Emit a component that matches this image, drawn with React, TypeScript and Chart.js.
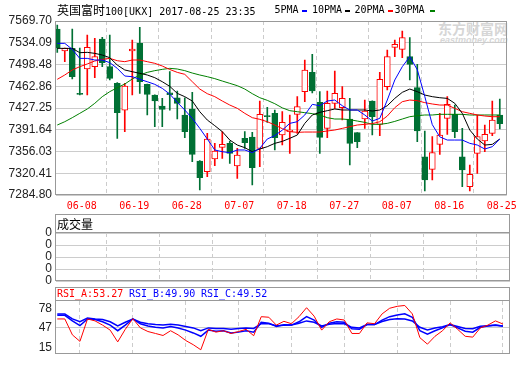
import React, { useEffect, useRef } from "react";
import { Chart, registerables } from "chart.js";

Chart.register(...registerables);

// ---------------- data ----------------
const dates = [
  "06-05", "06-06", "06-07", "06-08", "06-09", "06-12", "06-13", "06-14", "06-15", "06-16",
  "06-19", "06-20", "06-21", "06-22", "06-23", "06-26", "06-27", "06-28", "06-29", "06-30",
  "07-03", "07-04", "07-05", "07-06", "07-07", "07-10", "07-11", "07-12", "07-13", "07-14",
  "07-17", "07-18", "07-19", "07-20", "07-21", "07-24", "07-25", "07-26", "07-27", "07-28",
  "07-31", "08-01", "08-02", "08-03", "08-04", "08-07", "08-08", "08-09", "08-10", "08-11",
  "08-14", "08-15", "08-16", "08-17", "08-18", "08-21", "08-22", "08-23", "08-24", "08-25",
];
const xTickLabels = ["06-08", "06-19", "06-28", "07-07", "07-18", "07-27", "08-07", "08-16", "08-25"];

const opens = [
  7556.6, 7520.6, 7524.9, 7450.5, 7491.1, 7494.9, 7540.2, 7494.9, 7467.6, 7423.9,
  7520.6, 7533.1, 7466.0, 7448.5, 7430.5, 7452.0, 7444.1, 7415.8, 7425.6, 7340.4,
  7323.0, 7343.7, 7362.8, 7369.4, 7332.3, 7377.6, 7379.7, 7361.2, 7414.1, 7418.5,
  7383.0, 7388.5, 7416.9, 7454.0, 7485.6, 7436.5, 7393.9, 7434.9, 7427.8, 7409.2,
  7386.8, 7409.2, 7438.7, 7400.5, 7462.2, 7526.6, 7523.3, 7511.3, 7460.5, 7347.5,
  7326.8, 7367.7, 7410.3, 7416.9, 7347.5, 7298.4, 7353.0, 7373.2, 7385.7, 7415.8,
];
const highs = [
  7563.1, 7525.5, 7556.6, 7525.5, 7546.8, 7541.3, 7542.9, 7546.8, 7469.0, 7467.6,
  7538.6, 7559.3, 7466.5, 7449.0, 7443.0, 7486.7, 7455.1, 7444.1, 7452.9, 7341.0,
  7385.7, 7369.4, 7388.5, 7373.2, 7361.2, 7388.5, 7387.4, 7438.7, 7428.3, 7423.9,
  7421.2, 7415.8, 7445.8, 7505.8, 7515.1, 7454.0, 7455.1, 7487.8, 7462.2, 7443.0,
  7387.0, 7440.3, 7439.0, 7485.6, 7522.2, 7538.6, 7553.3, 7542.4, 7498.7, 7389.6,
  7380.3, 7418.5, 7445.8, 7432.1, 7393.9, 7333.9, 7415.8, 7399.4, 7438.7, 7442.0,
];
const lows = [
  7518.4, 7503.1, 7474.7, 7448.5, 7448.5, 7476.9, 7494.9, 7473.1, 7377.6, 7388.5,
  7448.5, 7451.2, 7415.8, 7396.7, 7396.7, 7423.9, 7409.2, 7378.6, 7339.3, 7293.0,
  7314.8, 7332.8, 7344.8, 7336.6, 7312.1, 7361.2, 7301.1, 7331.2, 7403.8, 7358.5,
  7366.6, 7353.0, 7385.7, 7437.6, 7452.0, 7353.0, 7378.6, 7426.5, 7407.6, 7333.9,
  7362.3, 7393.9, 7383.0, 7381.9, 7456.7, 7511.3, 7509.6, 7473.1, 7372.1, 7291.3,
  7309.3, 7351.4, 7384.1, 7378.6, 7298.4, 7291.3, 7320.2, 7355.7, 7381.9, 7392.8,
];
const closes = [
  7526.0, 7524.9, 7478.5, 7449.5, 7526.6, 7511.3, 7501.5, 7475.8, 7419.6, 7463.2,
  7523.8, 7470.3, 7449.6, 7438.7, 7425.0, 7449.0, 7434.9, 7388.5, 7351.4, 7313.1,
  7376.5, 7356.8, 7367.7, 7353.0, 7350.3, 7370.5, 7329.5, 7416.9, 7413.0, 7378.6,
  7403.8, 7391.2, 7429.4, 7489.5, 7455.1, 7379.2, 7434.9, 7451.2, 7443.0, 7369.4,
  7372.1, 7422.3, 7413.0, 7474.2, 7511.3, 7531.5, 7542.4, 7498.7, 7389.6, 7309.3,
  7354.1, 7383.0, 7433.2, 7388.5, 7325.7, 7318.6, 7380.3, 7384.1, 7407.6, 7401.5,
];

const ma5 = [
  7533.1, 7533.1, 7523.3, 7508.5, 7508.5, 7505.8, 7505.8, 7501.5, 7492.2, 7479.6,
  7478.5, 7474.2, 7470.3, 7466.0, 7459.4, 7450.0, 7436.5, 7424.0, 7410.3, 7393.9,
  7376.5, 7358.5, 7355.7, 7354.1, 7358.5, 7358.5, 7354.1, 7361.2, 7376.5, 7382.0,
  7391.0, 7402.1, 7404.8, 7415.8, 7433.2, 7431.0, 7438.7, 7440.3, 7431.0, 7424.0,
  7424.0, 7415.8, 7405.9, 7410.3, 7440.3, 7473.1, 7494.9, 7511.3, 7490.0, 7446.0,
  7400.0, 7380.0, 7374.8, 7374.8, 7374.8, 7369.4, 7366.6, 7360.1, 7363.9, 7376.5,
];
const ma10 = [
  7524.9, 7524.9, 7524.9, 7517.8, 7518.4, 7516.7, 7514.0, 7509.6, 7497.6, 7489.5,
  7486.7, 7484.0, 7481.3, 7476.9, 7470.3, 7462.7, 7451.2, 7445.8, 7438.7, 7421.2,
  7407.6, 7398.3, 7388.5, 7374.8, 7366.6, 7362.3, 7355.7, 7360.1, 7363.9, 7369.4,
  7372.6, 7377.6, 7383.0, 7402.1, 7415.8, 7420.1, 7422.9, 7425.6, 7424.0, 7424.0,
  7424.0, 7424.0, 7422.3, 7424.0, 7431.0, 7443.0, 7452.9, 7458.3, 7454.0, 7448.5,
  7445.8, 7444.1, 7443.0, 7434.9, 7418.5, 7391.2, 7376.5, 7366.6, 7367.7, 7376.5,
];
const ma20 = [
  7474.2, 7481.3, 7489.5, 7494.9, 7499.3, 7504.2, 7506.9, 7508.5, 7504.7, 7503.1,
  7505.8, 7505.8, 7503.1, 7500.4, 7496.0, 7490.3, 7485.6, 7482.4, 7470.3, 7458.3,
  7450.7, 7445.8, 7438.7, 7432.1, 7426.7, 7418.5, 7411.4, 7408.7, 7404.8, 7399.4,
  7393.4, 7388.5, 7387.4, 7387.9, 7387.9, 7387.9, 7389.6, 7391.2, 7393.9, 7396.7,
  7399.4, 7400.5, 7401.6, 7404.8, 7414.1, 7427.8, 7437.6, 7440.3, 7439.2, 7436.0,
  7433.8, 7432.1, 7432.1, 7426.7, 7421.2, 7418.5, 7415.8, 7414.1, 7413.0, 7413.0,
];
const ma30 = [
  7399.4, 7404.8, 7411.4, 7418.5, 7425.6, 7434.9, 7445.8, 7454.0, 7460.5, 7466.5,
  7474.7, 7481.3, 7485.6, 7488.4, 7490.5, 7492.2, 7491.1, 7488.4, 7484.5, 7481.3,
  7478.5, 7475.3, 7471.4, 7467.6, 7463.8, 7458.3, 7450.7, 7444.1, 7439.8, 7434.3,
  7427.5, 7422.9, 7421.2, 7419.6, 7418.0, 7415.8, 7411.4, 7409.2, 7409.2, 7408.1,
  7405.9, 7403.7, 7400.5, 7400.5, 7402.1, 7405.3, 7409.2, 7413.0, 7414.7, 7415.8,
  7415.8, 7416.9, 7416.9, 7416.9, 7416.9, 7415.8, 7415.8, 7415.8, 7415.8, 7415.8,
];
const maLabels = ["5PMA", "10PMA", "20PMA", "30PMA"];
const priceTicks = [7284.80, 7320.41, 7356.03, 7391.64, 7427.25, 7462.86, 7498.48, 7534.09, 7569.70];

const volTickLabels = ["0", "0", "0", "0", "0"];

const rsiA = [
  61.6, 61.6, 35.5, 24.9, 61.6, 58.4, 51.5, 43.3, 24.0, 44.6,
  62.1, 47.0, 41.0, 37.8, 34.5, 42.3, 35.5, 26.3, 19.4, 11.1,
  44.6, 40.0, 42.3, 37.8, 41.0, 44.6, 34.1, 65.3, 64.4, 51.5,
  57.7, 53.8, 65.3, 80.0, 66.2, 43.3, 57.0, 61.6, 59.8, 37.8,
  37.8, 55.2, 53.8, 69.9, 79.1, 82.3, 83.7, 69.9, 30.9, 20.3,
  33.2, 42.3, 55.2, 44.6, 33.2, 31.8, 46.9, 51.5, 58.4, 53.27,
];
const rsiB = [
  67.6, 67.6, 58.4, 50.6, 61.6, 60.7, 57.0, 51.5, 42.3, 51.5,
  61.6, 53.8, 50.1, 47.9, 46.9, 49.2, 46.9, 43.3, 38.7, 33.2,
  43.3, 41.4, 42.3, 38.7, 40.0, 42.3, 40.0, 56.1, 54.7, 49.2,
  51.9, 51.5, 57.0, 65.3, 59.8, 47.9, 54.7, 57.0, 56.1, 45.6,
  44.6, 52.4, 52.4, 59.8, 65.3, 68.1, 69.9, 64.4, 42.3, 36.8,
  42.3, 46.9, 52.4, 46.9, 41.4, 40.0, 47.9, 50.1, 51.1, 49.90,
];
const rsiC = [
  69.9, 69.9, 61.6, 57.0, 63.0, 61.6, 60.7, 57.0, 50.1, 56.1,
  61.6, 56.1, 53.8, 52.4, 51.5, 52.9, 51.5, 49.2, 46.9, 42.3,
  46.9, 46.0, 46.0, 44.6, 46.0, 46.9, 46.0, 53.8, 53.8, 50.6,
  51.3, 51.5, 54.7, 58.4, 56.1, 50.1, 52.9, 54.3, 53.8, 47.9,
  46.9, 52.4, 52.4, 57.5, 60.7, 62.1, 61.6, 58.4, 47.9, 43.7,
  46.9, 48.8, 52.4, 49.2, 46.0, 45.6, 49.7, 50.6, 51.5, 49.52,
];
const rsiTicks = [15, 47, 78];
const rsiLabels = ["RSI_A", "RSI_B", "RSI_C"];

const titleName = "英国富时";
const titleCode = "100[UKX]";
const titleTime = "2017-08-25 23:35";
const volTitle = "成交量";

// ---------------- styles ----------------
const RED = "#ff0000";
const BLUE = "#0000ff";
const BLACK = "#000000";
const GREEN_CANDLE = "#007034";
const GREEN_LINE = "#008000";
const GRID = "#cccccc";
const FRAME = "#999999";
const AXIS_TXT = "#222222";
const MONO = "'DejaVu Sans Mono', 'Liberation Mono', monospace";
const CJK = "'Noto Sans CJK SC', sans-serif";
const SANS = "'Liberation Sans', Arial, sans-serif";
const W = 520;
const H = 365;
const X_MIN = -0.17;
const X_MAX = 59.93;

const framePlugin = {
  id: "panelFrame",
  afterDraw(chart: any, _args: any, opts: any) {
    const { ctx, chartArea: a } = chart;
    const top = opts && opts.headerTop != null ? opts.headerTop : a.top;
    ctx.save();
    ctx.strokeStyle = FRAME;
    ctx.lineWidth = 1;
    const l = Math.round(a.left) - 0.5;
    const r = Math.round(a.right) - 0.5;
    const t = Math.round(top) + 0.5;
    const b = Math.round(a.bottom) - 0.5;
    ctx.strokeRect(l, t, r - l, b - t);
    if (opts && opts.headerTop != null) {
      const y = Math.round(a.top) - 0.5;
      ctx.beginPath();
      ctx.moveTo(l, y);
      ctx.lineTo(r, y);
      ctx.stroke();
    }
    ctx.restore();
  },
};

const pts = (arr: number[]) => arr.map((y, x) => ({ x, y }));

function xScale(showLabels: boolean) {
  const idx = xTickLabels.map((l) => dates.indexOf(l));
  return {
    type: "linear",
    min: X_MIN,
    max: X_MAX,
    offset: false,
    afterBuildTicks: (s: any) => {
      s.ticks = idx.map((v) => ({ value: v }));
    },
    afterFit: (s: any) => {
      s.height = showLabels ? 19 : 0;
    },
    ticks: {
      display: showLabels,
      autoSkip: false,
      maxRotation: 0,
      minRotation: 0,
      padding: 5,
      labelOffset: 2,
      color: RED,
      font: { family: MONO, size: 10 },
      callback: (v: any) => dates[Math.round(Number(v))] ?? "",
    },
    grid: { color: GRID, drawTicks: false, lineWidth: 1 },
    border: { display: false, dash: [4, 3] },
  };
}

function yScale(min: number, max: number, tickVals: number[], label: (v: number, i: number) => string, gridColor: any) {
  return {
    type: "linear",
    min,
    max,
    afterBuildTicks: (s: any) => {
      s.ticks = tickVals.map((v) => ({ value: v }));
    },
    afterFit: (s: any) => {
      s.width = 56;
    },
    ticks: {
      autoSkip: false,
      padding: 4,
      color: AXIS_TXT,
      font: { family: SANS, size: 12 },
      callback: (v: any, i: number) => label(Number(v), i),
    },
    grid: { color: gridColor, drawTicks: false, lineWidth: 1 },
    border: { display: false },
  };
}

const baseOptions = (padding: any, frame: any) => ({
  responsive: false,
  animation: false,
  events: [],
  layout: { padding, autoPadding: false },
  plugins: { legend: { display: false }, tooltip: { enabled: false }, panelFrame: frame },
});

function mainConfig(): any {
  const up = closes.map((c, i) => c >= opens[i]);
  const line = (label: string, data: number[], color: string, order: number) => ({
    type: "line",
    label,
    data: pts(data),
    borderColor: color,
    borderWidth: 1,
    pointRadius: 0,
    tension: 0,
    order,
  });
  return {
    type: "bar",
    data: {
      datasets: [
        line(maLabels[0], ma5, BLUE, 1),
        line(maLabels[1], ma10, BLACK, 2),
        line(maLabels[2], ma20, RED, 3),
        line(maLabels[3], ma30, GREEN_LINE, 4),
        {
          type: "bar",
          label: "body",
          data: opens.map((o, i) => ({ x: i, y: [o, closes[i]] })),
          backgroundColor: up.map((u) => (u ? "#ffffff" : GREEN_CANDLE)),
          borderColor: up.map((u) => (u ? RED : GREEN_CANDLE)),
          borderWidth: 1,
          borderSkipped: false,
          barThickness: 6,
          grouped: false,
          minBarLength: 1,
          order: 5,
        },
        {
          type: "bar",
          label: "wick",
          data: lows.map((l, i) => ({ x: i, y: [l, highs[i]] })),
          backgroundColor: up.map((u) => (u ? RED : GREEN_CANDLE)),
          borderWidth: 0,
          barThickness: 1,
          grouped: false,
          order: 6,
        },
      ],
    },
    options: {
      ...baseOptions({ left: 0, top: 21, right: 10, bottom: H - 195 - 19 }, {}),
      scales: {
        x: xScale(true),
        y: yScale(priceTicks[0], priceTicks[priceTicks.length - 1], priceTicks, (v) => v.toFixed(2), GRID),
      },
    },
    plugins: [framePlugin],
  };
}

function volConfig(): any {
  return {
    type: "bar",
    data: { datasets: [] },
    options: {
      ...baseOptions({ left: 0, top: 233, right: 10, bottom: H - 281 }, { headerTop: 214 }),
      scales: {
        x: xScale(false),
        y: yScale(0, volTickLabels.length - 1, volTickLabels.map((_, i) => i), (_v, i) => volTickLabels[i], GRID),
      },
    },
    plugins: [framePlugin],
  };
}

function rsiConfig(): any {
  const line = (label: string, data: number[], color: string, width: number) => ({
    label,
    data: pts(data),
    borderColor: color,
    borderWidth: width,
    pointRadius: 0,
    tension: 0,
  });
  return {
    type: "line",
    data: {
      datasets: [
        line(rsiLabels[0], rsiA, RED, 1),
        line(rsiLabels[1], rsiB, BLUE, 1.5),
        line(rsiLabels[2], rsiC, BLUE, 1.5),
      ],
    },
    options: {
      ...baseOptions({ left: 0, top: 301, right: 10, bottom: 1 }, { headerTop: 287 }),
      scales: {
        x: xScale(false),
        y: yScale(4.5, 91, rsiTicks, (v) => String(v), (ctx: any) =>
          ctx.tick && ctx.tick.value === 47 ? GRID : "rgba(0,0,0,0)"
        ),
      },
    },
    plugins: [framePlugin],
  };
}

function ChartCanvas({ make }: { make: () => any }) {
  const ref = useRef<HTMLCanvasElement | null>(null);
  useEffect(() => {
    if (!ref.current) return;
    const c = new Chart(ref.current, make());
    return () => c.destroy();
  }, []);
  return (
    <canvas
      ref={ref}
      width={W}
      height={H}
      style={{ position: "absolute", left: 0, top: 0, width: W, height: H }}
    />
  );
}

const txt = (x: number, y: number, color: string, extra: any = {}) => ({
  position: "absolute" as const,
  left: x,
  top: y,
  color,
  fontFamily: MONO,
  fontSize: 10,
  lineHeight: "12px",
  whiteSpace: "pre" as const,
  ...extra,
});

export default function App() {
  const last = (a: number[]) => a[a.length - 1].toFixed(2);
  const maColors = [BLUE, BLACK, RED, GREEN_LINE];
  const legendTextX = [274.5, 312, 354.5, 394.5];
  const legendDashX = [301.5, 345, 387.5, 430];
  return (
    <div style={{ position: "absolute", left: 0, top: 0, width: W, height: H, background: "#ffffff", overflow: "hidden" }}>
      {/* watermark */}
      <div style={{ position: "absolute", left: 438, top: 20, color: "#d6d6d6", fontFamily: CJK, fontWeight: 700, fontSize: 14, lineHeight: "16px", whiteSpace: "pre" }}>东方财富网</div>
      <div style={{ position: "absolute", left: 440, top: 35, color: "#d6d6d6", fontFamily: SANS, fontWeight: 700, fontStyle: "italic", fontSize: 9, lineHeight: "10px", whiteSpace: "pre" }}>eastmoney.com</div>

      <ChartCanvas make={mainConfig} />
      <ChartCanvas make={volConfig} />
      <ChartCanvas make={rsiConfig} />

      {/* title */}
      <div style={txt(57, 4, "#000000")}>
        <span style={{ fontFamily: CJK, fontSize: 12 }}>{titleName}</span>
        {titleCode + " " + titleTime}
      </div>
      {maLabels.map((l, i) => (
        <React.Fragment key={l}>
          <div style={txt(legendTextX[i], 4, "#000000")}>{l}</div>
          <div style={{ position: "absolute", left: legendDashX[i], top: 10, width: 5, height: 2, background: maColors[i] }} />
        </React.Fragment>
      ))}

      {/* volume header */}
      <div style={{ position: "absolute", left: 57, top: 217, fontFamily: CJK, fontSize: 12, lineHeight: "13px", color: "#000" }}>{volTitle}</div>

      {/* RSI header */}
      <div style={txt(57, 288, RED)}>{`${rsiLabels[0]}:${last(rsiA)}`}</div>
      <div style={txt(129, 288, BLUE)}>{`${rsiLabels[1]}:${last(rsiB)}`}</div>
      <div style={txt(201, 288, BLUE)}>{`${rsiLabels[2]}:${last(rsiC)}`}</div>
    </div>
  );
}
